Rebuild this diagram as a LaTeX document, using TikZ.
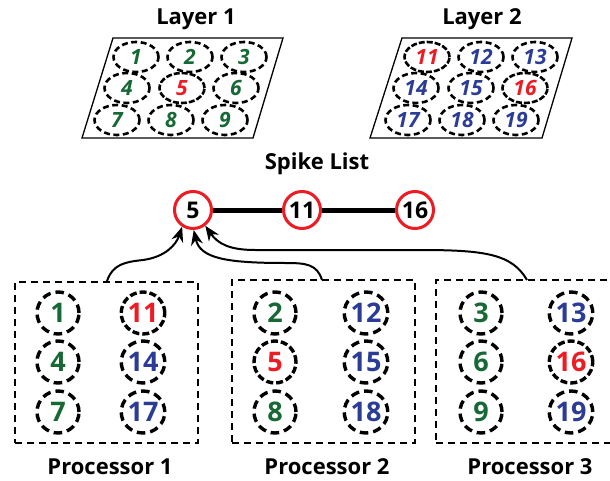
\documentclass[tikz,border=0pt]{standalone}
\usepackage{fontspec}
\setmainfont{Open Sans}
\usetikzlibrary{shapes.geometric,arrows.meta}
\definecolor{ngreen}{RGB}{22,104,52}
\definecolor{nblue}{RGB}{43,60,150}
\definecolor{nred}{RGB}{237,28,36}
\tikzset{
  lc/.style={ellipse,draw,line width=2.6pt,dash pattern=on 6pt off 3.5pt,minimum width=45pt,minimum height=30pt,inner sep=0pt,font=\fontsize{21}{21}\selectfont\bfseries\itshape},
  lchot/.style={lc,dash pattern=on 6pt off 2pt},
  pc/.style={ellipse,draw,line width=3.4pt,dash pattern=on 8.5pt off 5pt,minimum width=42pt,minimum height=42pt,inner sep=0pt,font=\fontsize{27}{27}\selectfont\bfseries},
  pchot/.style={pc,dash pattern=on 7pt off 3pt},
  pbox/.style={draw,line width=1.8pt,dash pattern=on 7pt off 5pt},
  sc/.style={circle,draw=nred,fill=white,line width=3pt,minimum size=37pt,inner sep=0pt,font=\fontsize{23}{23}\selectfont\bfseries},
  ttl/.style={font=\fontsize{22}{22}\selectfont\bfseries},
  arr/.style={line width=2pt,-{Stealth[length=15pt,width=12pt]}},
  para/.style={draw,line width=1.3pt,fill=white}
}
\begin{document}
\begin{tikzpicture}[x=1pt,y=-1pt]
\useasboundingbox (0,0) rectangle (610,481);
\clip (0,0) rectangle (610,481);
% Layer 1
\node[ttl] (t1) at (196,19) {Layer 1};
\draw[para] (113,38) -- (283,38) -- (253,138) -- (82,138) -- cycle;
\node[lc,text=ngreen] (l1) at (136,57) {1};
\node[lc,text=ngreen] (l2) at (190,57) {2};
\node[lc,text=ngreen] (l3) at (244,57) {3};
\node[lc,text=ngreen] (l4) at (127,88) {4};
\node[lchot,text=nred] (l5) at (182,88) {5};
\node[lc,text=ngreen] (l6) at (236,88) {6};
\node[lc,text=ngreen] (l7) at (117,120) {7};
\node[lc,text=ngreen] (l8) at (171,120) {8};
\node[lc,text=ngreen] (l9) at (225,120) {9};
% Layer 2
\node[ttl] (t2) at (482,19) {Layer 2};
\draw[para] (402,38) -- (572,38) -- (542,138) -- (370,138) -- cycle;
\node[lchot,text=nred] (l11) at (427,57) {11};
\node[lc,text=nblue] (l12) at (481,57) {12};
\node[lc,text=nblue] (l13) at (535,57) {13};
\node[lc,text=nblue] (l14) at (416,88) {14};
\node[lc,text=nblue] (l15) at (471,88) {15};
\node[lchot,text=nred] (l16) at (525,88) {16};
\node[lc,text=nblue] (l17) at (408,120) {17};
\node[lc,text=nblue] (l18) at (462,120) {18};
\node[lc,text=nblue] (l19) at (516,120) {19};
% Spike list
\node[ttl] (st) at (317,164) {Spike List};
\node[sc] (s5) at (193,210) {5};
\node[sc] (s11) at (302,210) {11};
\node[sc] (s16) at (415,210) {16};
\draw[line width=5pt] (s5) -- (s11);
\draw[line width=5pt] (s11) -- (s16);
% Processor boxes
\node[pbox,minimum width=183pt,minimum height=161pt,inner sep=0pt] (p1) at (106.5,362.5) {};
\node[pbox,minimum width=183pt,minimum height=163pt,inner sep=0pt] (p2) at (323.5,361.5) {};
\node[pbox,minimum width=190pt,minimum height=163pt,inner sep=0pt] (p3) at (531,361.5) {};
\node[ttl] (pl1) at (110,467) {Processor 1};
\node[ttl] (pl2) at (327,467) {Processor 2};
\node[ttl] (pl3) at (530,467) {Processor 3};
% Processor 1
\node[pc,text=ngreen] (a1) at (58,313) {1};
\node[pc,text=ngreen] (a4) at (58,362) {4};
\node[pc,text=ngreen] (a7) at (58,412) {7};
\node[pchot,text=nred] (a11) at (143,313) {11};
\node[pc,text=nblue] (a14) at (143,362) {14};
\node[pc,text=nblue] (a17) at (143,412) {17};
% Processor 2
\node[pc,text=ngreen] (b2) at (275,313) {2};
\node[pchot,text=nred] (b5) at (275,362) {5};
\node[pc,text=ngreen] (b8) at (275,412) {8};
\node[pc,text=nblue] (b12) at (366,313) {12};
\node[pc,text=nblue] (b15) at (366,362) {15};
\node[pc,text=nblue] (b18) at (366,412) {18};
% Processor 3
\node[pc,text=ngreen] (c3) at (481,313) {3};
\node[pc,text=ngreen] (c6) at (481,362) {6};
\node[pc,text=ngreen] (c9) at (481,412) {9};
\node[pc,text=nblue] (c13) at (571,313) {13};
\node[pchot,text=nred] (c16) at (571,362) {16};
\node[pc,text=nblue] (c19) at (571,412) {19};
% Arrows
\coordinate (q1) at (107,281);
\coordinate (q2) at (322,280);
\coordinate (q3) at (527,280);
\draw[arr] (q1) .. controls (113,264) and (125,262) .. (143,260) .. controls (165,257) and (176,245) .. (s5.237);
\draw[arr] (q2) .. controls (317,264) and (306,263) .. (285,263) .. controls (225,263) and (200,258) .. (s5.272);
\draw[arr] (q3) .. controls (512,254) and (485,250) .. (420,250) -- (255,250) .. controls (230,250) and (218,244) .. (s5.308);
\end{tikzpicture}
\end{document}
